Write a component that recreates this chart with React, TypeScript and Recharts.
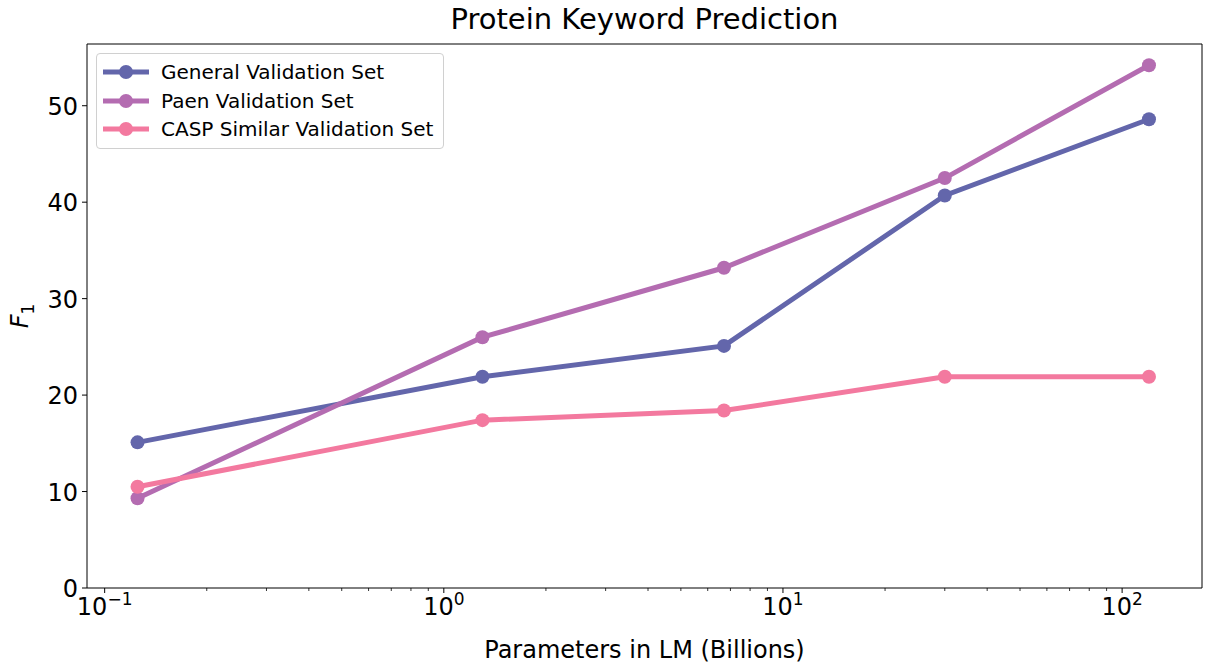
import React from 'react';
import { LineChart, Line, XAxis, YAxis, ReferenceLine } from 'recharts';

const modelSizes = [0.125, 1.3, 6.7, 30, 120];
const generalF1 = [15.1, 21.9, 25.1, 40.7, 48.6];
const paenF1 = [9.3, 26.0, 33.2, 42.5, 54.2];
const caspF1 = [10.5, 17.4, 18.4, 21.9, 21.9];

const seriesNames = ['General Validation Set', 'Paen Validation Set', 'CASP Similar Validation Set'];
const seriesKeys = ['general', 'paen', 'casp'];
const seriesColors = ['#6366ab', '#b46cb1', '#f3799f'];

const majorXTicks = [0.1, 1, 10, 100];
const majorXLabels = ['\u22121', '0', '1', '2'];
const minorXTicks = [0.2, 0.3, 0.4, 0.5, 0.6, 0.7, 0.8, 0.9, 2, 3, 4, 5, 6, 7, 8, 9, 20, 30, 40, 50, 60, 70, 80, 90];
const yTicks = [0, 10, 20, 30, 40, 50];
const xDomain = [0.0887, 172];
const yDomain = [0, 56.4];

const data = modelSizes.map((x, i) => ({
  x,
  general: generalF1[i],
  paen: paenF1[i],
  casp: caspF1[i],
}));

const FONT = 'DejaVu Sans, sans-serif';

const XTick = (props: any) => {
  const { x, y, payload } = props;
  const idx = majorXTicks.indexOf(payload.value);
  if (idx < 0) {
    return <line x1={x} x2={x} y1={y} y2={y + 3} stroke="#000" strokeWidth={0.8} />;
  }
  return (
    <g>
      <line x1={x} x2={x} y1={y} y2={y + 5} stroke="#000" strokeWidth={1} />
      <text x={x} y={y + 27} textAnchor="middle" fontFamily={FONT} fontSize={24} fill="#000">
        <tspan>10</tspan>
        <tspan dy={-10} fontSize={17}>{majorXLabels[idx]}</tspan>
      </text>
    </g>
  );
};

const YTick = (props: any) => {
  const { x, y, payload } = props;
  return (
    <g>
      <line x1={x - 5} x2={x} y1={y} y2={y} stroke="#000" strokeWidth={1} />
      <text x={x - 9} y={y + 9} textAnchor="end" fontFamily={FONT} fontSize={24} fill="#000">
        {payload.value}
      </text>
    </g>
  );
};

const LegendBox = () => (
  <div
    style={{
      position: 'absolute',
      left: 96,
      top: 53,
      border: '1px solid #d0d0d0',
      borderRadius: 4,
      background: 'rgba(255,255,255,0.8)',
      padding: '4px 10px 4px 6px',
      fontFamily: FONT,
      fontSize: 20,
      color: '#000',
      zIndex: 2,
    }}
  >
    {seriesNames.map((name, i) => (
      <div key={name} style={{ display: 'flex', alignItems: 'center', height: 28.5 }}>
        <svg width={46} height={16} style={{ marginRight: 12 }}>
          <line x1={0} x2={46} y1={8} y2={8} stroke={seriesColors[i]} strokeWidth={5} />
          <circle cx={23} cy={8} r={7} fill={seriesColors[i]} />
        </svg>
        <span>{name}</span>
      </div>
    ))}
  </div>
);

export default function App() {
  const allXTicks = [...majorXTicks, ...minorXTicks].sort((a, b) => a - b);
  return (
    <div style={{ position: 'absolute', left: 0, top: 0, width: 1209, height: 668, background: '#fff' }}>
      <div
        style={{
          position: 'absolute',
          left: 87,
          width: 1115,
          top: 2,
          textAlign: 'center',
          fontFamily: FONT,
          fontSize: 29,
          color: '#000',
        }}
      >
        Protein Keyword Prediction
      </div>
      <LineChart
        width={1209}
        height={668}
        data={data}
        margin={{ top: 44, right: 7, left: 0, bottom: 0 }}
      >
        <XAxis
          dataKey="x"
          type="number"
          scale="log"
          domain={xDomain}
          ticks={allXTicks}
          allowDataOverflow
          interval={0}
          height={80}
          tickSize={0}
          tickMargin={0}
          tickLine={false}
          tick={<XTick />}
          axisLine={{ stroke: '#000', strokeWidth: 1 }}
          label={{ value: 'Parameters in LM (Billions)', position: 'insideBottom', offset: 10, fontFamily: FONT, fontSize: 24, fill: '#000' }}
        />
        <YAxis
          type="number"
          domain={yDomain}
          ticks={yTicks}
          allowDataOverflow
          width={87}
          tickSize={0}
          tickMargin={0}
          tickLine={false}
          tick={<YTick />}
          axisLine={{ stroke: '#000', strokeWidth: 1 }}
          label={(props: any) => {
            const vb = props.viewBox;
            const cy = vb.y + vb.height / 2;
            return (
              <text x={28} y={cy} transform={`rotate(-90, 28, ${cy})`} textAnchor="middle" fontFamily={FONT} fill="#000">
                <tspan fontSize={24} fontStyle="italic">F</tspan>
                <tspan fontSize={17} dy={6}>1</tspan>
              </text>
            );
          }}
        />
        <ReferenceLine y={yDomain[1]} stroke="#000" strokeWidth={1} ifOverflow="extendDomain" />
        <ReferenceLine x={xDomain[1]} stroke="#000" strokeWidth={1} ifOverflow="extendDomain" />
        {seriesKeys.map((k, i) => (
          <Line
            key={k}
            dataKey={k}
            name={seriesNames[i]}
            stroke={seriesColors[i]}
            strokeWidth={5}
            dot={{ r: 7, fill: seriesColors[i], stroke: 'none' }}
            activeDot={false}
            isAnimationActive={false}
          />
        ))}
      </LineChart>
      <LegendBox />
    </div>
  );
}
